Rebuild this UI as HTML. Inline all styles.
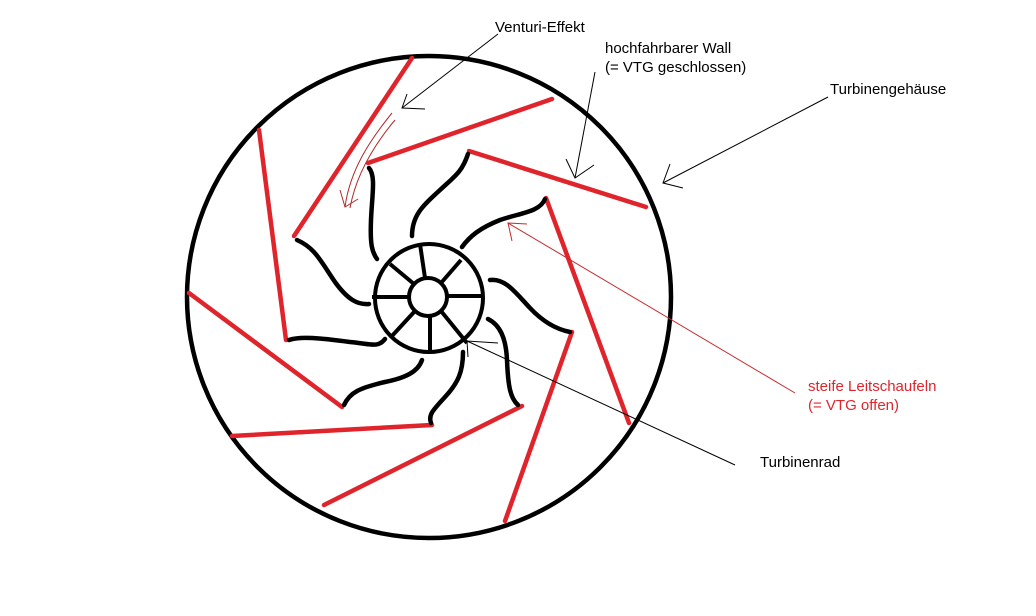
<!DOCTYPE html>
<html><head><meta charset="utf-8"><style>
html,body{margin:0;padding:0;background:#fff;}
svg{display:block;}
text{font-family:"Liberation Sans",sans-serif;font-size:15px;}
</style></head><body>
<svg width="1036" height="616" viewBox="0 0 1036 616" xmlns="http://www.w3.org/2000/svg">
<rect width="1036" height="616" fill="#fff"/>
<!-- housing -->
<ellipse cx="429" cy="297" rx="242" ry="241" fill="none" stroke="#000" stroke-width="4.5"/>
<!-- red vanes -->
<g stroke="#e0242c" stroke-width="4.5" stroke-linecap="round" fill="none">
<line x1="412" y1="58" x2="294" y2="236"/>
<line x1="368" y1="163" x2="552" y2="99"/>
<line x1="469" y1="151" x2="646" y2="207"/>
<line x1="546" y1="198" x2="629" y2="423"/>
<line x1="572" y1="332" x2="505" y2="521"/>
<line x1="522" y1="406" x2="324" y2="505"/>
<line x1="432" y1="425" x2="232" y2="436"/>
<line x1="342" y1="407" x2="189" y2="293"/>
<line x1="286" y1="340" x2="259" y2="130"/>
</g>
<!-- black blades -->
<g stroke="#000" stroke-width="4.5" stroke-linecap="round" fill="none">
<path d="M369,168 C376,176 372,195 371,220 C370,245 372,252 377,259"/>
<path d="M468,154 C462,172 455,176 440,190 C425,204 412,214 412,236"/>
<path d="M545,199 C540,212 520,213 500,220 C480,228 470,236 462,247"/>
<path d="M490,280 C505,278 515,292 530,308 C545,324 560,330 570,332"/>
<path d="M488,319 C500,325 506,338 507,360 C508,385 510,398 518,405"/>
<path d="M463,352 C463,372 458,383 445,397 C433,410 428,415 431,423"/>
<path d="M422,360 C418,372 405,378 385,382 C360,388 350,392 344,405"/>
<path d="M385,339 C378,348 372,344 350,342 C320,338 300,336 289,340"/>
<path d="M297,240 C315,248 320,260 335,282 C348,300 358,305 369,304"/>
</g>
<!-- hub -->
<g stroke="#000" stroke-width="4" fill="none">
<circle cx="429" cy="298" r="54"/>
<circle cx="428" cy="297" r="19"/>
<line x1="425" y1="278" x2="420" y2="244"/>
<line x1="441" y1="283" x2="461" y2="260"/>
<line x1="447" y1="296" x2="484" y2="296"/>
<line x1="441" y1="311" x2="467" y2="343"/>
<line x1="430" y1="316" x2="430" y2="352"/>
<line x1="415" y1="311" x2="391" y2="337"/>
<line x1="409" y1="297" x2="372" y2="297"/>
<line x1="414" y1="284" x2="390" y2="264"/>
</g>
<!-- venturi thin red arrow -->
<g stroke="#b02a2a" stroke-width="1" fill="none">
<path d="M392,113 C370,140 350,170 345,207"/>
<path d="M395,120 C374,145 356,175 350,208"/>
<polyline points="340,190 345,207 358,199"/>
</g>
<!-- black annotation arrows -->
<g stroke="#000" stroke-width="1" fill="none">
<line x1="498" y1="34" x2="402" y2="108"/>
<polyline points="407,94 402,108 425,109"/>
<line x1="595" y1="72" x2="575" y2="178"/>
<polyline points="566,159 575,178 594,165"/>
<line x1="828" y1="97" x2="663" y2="183"/>
<polyline points="670,164 663,183 683,188"/>
<line x1="735" y1="465" x2="467" y2="341"/>
<polyline points="498,343 467,341 468,357"/>
</g>
<g stroke="#c8282c" stroke-width="1" fill="none">
<line x1="795" y1="393" x2="508" y2="223"/>
<polyline points="527,224 508,223 512,241"/>
</g>
<!-- labels -->
<text x="495" y="32" fill="#000">Venturi-Effekt</text>
<text x="605" y="53" fill="#000">hochfahrbarer Wall</text>
<text x="605" y="72" fill="#000">(= VTG geschlossen)</text>
<text x="830" y="94" fill="#000">Turbinengehäuse</text>
<text x="808" y="391" fill="#e0242c">steife Leitschaufeln</text>
<text x="808" y="410" fill="#e0242c">(= VTG offen)</text>
<text x="760" y="467" fill="#000">Turbinenrad</text>
</svg>
</body></html>
